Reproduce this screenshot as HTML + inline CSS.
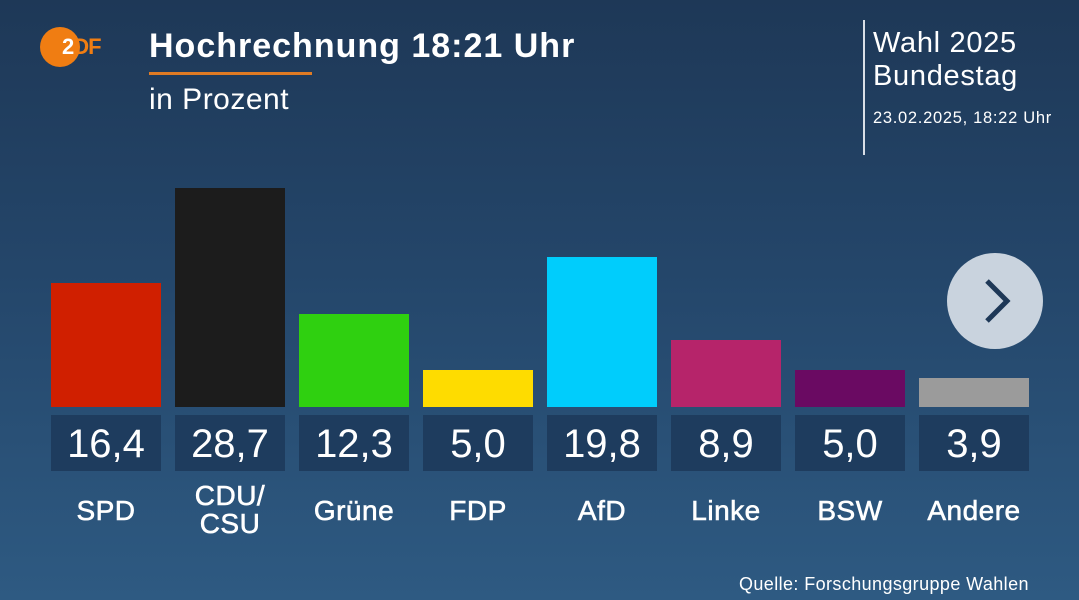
<!DOCTYPE html>
<html><head><meta charset="utf-8"><style>
body{margin:0;width:1079px;height:600px;overflow:hidden;font-family:"Liberation Sans",sans-serif;color:#fff;
background:linear-gradient(180deg,#1e3857 0%,#24466a 45%,#2e5a82 100%);position:relative}
.a{position:absolute}
.bar{position:absolute;width:110px;bottom:193px}
.val{position:absolute;width:110px;top:415px;height:56px;background:#1e3c5e;font-size:40px;text-align:center;line-height:58px}
.lab{position:absolute;width:130px;text-align:center;font-size:28px;line-height:27px;-webkit-text-stroke:0.6px #fff;letter-spacing:0.5px}
</style></head><body>
<div class="a" style="left:40px;top:27px;width:40px;height:40px;border-radius:50%;background:#f07d12"></div>
<div class="a" style="left:62px;top:34px;font-size:22px;font-weight:bold;color:#fff;letter-spacing:-1px">2<span style="color:#f07d12">DF</span></div>
<div class="a" style="left:149px;top:27px;font-size:34px;font-weight:bold;letter-spacing:1px">Hochrechnung 18:21 Uhr</div>
<div class="a" style="left:149px;top:72px;width:163px;height:3px;background:#e07b24"></div>
<div class="a" style="left:149px;top:83px;font-size:30px;letter-spacing:0.5px">in Prozent</div>
<div class="a" style="left:863px;top:20px;width:2px;height:135px;background:#d8dee6"></div>
<div class="a" style="left:873px;top:27px;font-size:29px;line-height:33px;letter-spacing:0.7px">Wahl 2025<br>Bundestag</div>
<div class="a" style="left:873px;top:109px;font-size:16.5px;letter-spacing:0.7px">23.02.2025, 18:22 Uhr</div>
<div class="a" style="left:947px;top:253px;width:96px;height:96px;border-radius:50%;background:#c9d3de"></div>
<svg class="a" style="left:947px;top:253px" width="96" height="96"><polyline points="40,28 60,48 40,68" fill="none" stroke="#1e3857" stroke-width="5"/></svg>

<div class="bar" style="left:51px;height:124px;background:#d01f00"></div>
<div class="bar" style="left:175px;height:219px;background:#1c1c1c"></div>
<div class="bar" style="left:299px;height:93px;background:#2fd010"></div>
<div class="bar" style="left:423px;height:37px;background:#fedc00"></div>
<div class="bar" style="left:547px;height:150px;background:#00cdfc"></div>
<div class="bar" style="left:671px;height:67px;background:#b6246a"></div>
<div class="bar" style="left:795px;height:37px;background:#6a0a62"></div>
<div class="bar" style="left:919px;height:29px;background:#9b9b9b"></div>

<div class="val" style="left:51px">16,4</div>
<div class="val" style="left:175px">28,7</div>
<div class="val" style="left:299px">12,3</div>
<div class="val" style="left:423px">5,0</div>
<div class="val" style="left:547px">19,8</div>
<div class="val" style="left:671px">8,9</div>
<div class="val" style="left:795px">5,0</div>
<div class="val" style="left:919px">3,9</div>

<div class="lab" style="left:41px;top:497px">SPD</div>
<div class="lab" style="left:165px;top:482px;line-height:28px">CDU/<br>CSU</div>
<div class="lab" style="left:289px;top:497px">Grüne</div>
<div class="lab" style="left:413px;top:497px">FDP</div>
<div class="lab" style="left:537px;top:497px">AfD</div>
<div class="lab" style="left:661px;top:497px">Linke</div>
<div class="lab" style="left:785px;top:497px">BSW</div>
<div class="lab" style="left:909px;top:497px">Andere</div>
<div class="a" style="left:739px;top:574px;font-size:18px;letter-spacing:0.4px">Quelle: Forschungsgruppe Wahlen</div>
</body></html>
